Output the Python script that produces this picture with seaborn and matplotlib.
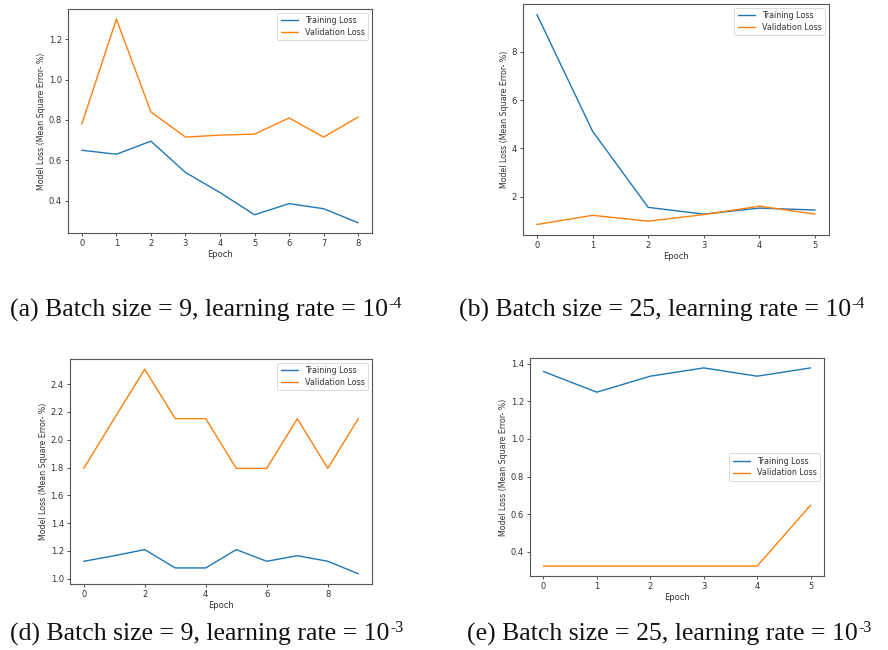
import numpy as np
import pandas as pd
import matplotlib
matplotlib.use("Agg")
import matplotlib.pyplot as plt
import seaborn as sns

sns.set_style("ticks")
plt.rcParams['font.family'] = ['DejaVu Sans']

# (a) batch 9, lr 1e-4
epochs_a = [0, 1, 2, 3, 4, 5, 6, 7, 8]
train_a = [0.65, 0.63, 0.695, 0.54, 0.44, 0.33, 0.385, 0.36, 0.29]
val_a = [0.78, 1.30, 0.84, 0.715, 0.725, 0.73, 0.81, 0.715, 0.815]

# (b) batch 25, lr 1e-4
epochs_b = [0, 1, 2, 3, 4, 5]
train_b = [9.55, 4.71, 1.55, 1.27, 1.52, 1.44]
val_b = [0.84, 1.22, 0.98, 1.25, 1.6, 1.27]

# (d) batch 9, lr 1e-3
epochs_d = [0, 1, 2, 3, 4, 5, 6, 7, 8, 9]
train_d = [1.125, 1.165, 1.209, 1.077, 1.077, 1.209, 1.125, 1.165, 1.125, 1.035]
val_d = [1.794, 2.152, 2.508, 2.152, 2.152, 1.794, 1.794, 2.152, 1.794, 2.152]

# (e) batch 25, lr 1e-3
epochs_e = [0, 1, 2, 3, 4, 5]
train_e = [1.358, 1.248, 1.333, 1.377, 1.333, 1.377]
val_e = [0.324, 0.324, 0.324, 0.324, 0.324, 0.648]

captions = [
    ("(a)", "9", "-4"),
    ("(b)", "25", "-4"),
    ("(d)", "9", "-3"),
    ("(e)", "25", "-3"),
]

blue = '#1f77b4'
orange = '#ff7f0e'
fs = 6

fig = plt.figure(figsize=(8.88, 6.5), dpi=100)

panels = [
    (epochs_a, train_a, val_a, [68, 9, 372, 233], 'upper right', epochs_a),
    (epochs_b, train_b, val_b, [523, 4, 829, 235], 'upper right', epochs_b),
    (epochs_d, train_d, val_d, [70, 359, 372, 584], 'upper right', epochs_d[::2]),
    (epochs_e, train_e, val_e, [530, 358, 824, 576], 'center right', epochs_e),
]

W, H = 888, 650
for ep, tr, va, box, loc, xt in panels:
    l, t, r, b = box
    ax = fig.add_axes([l / W, 1 - b / H, (r - l) / W, (b - t) / H])
    df = pd.DataFrame({'Epoch': ep + ep,
                       'loss': tr + va,
                       'series': ['Training Loss'] * len(ep) + ['Validation Loss'] * len(ep)})
    sns.lineplot(data=df, x='Epoch', y='loss', hue='series',
                 palette=[blue, orange], linewidth=1.0, ax=ax)
    ax.set_xticks(xt)
    ax.set_xlabel('Epoch', fontsize=fs, color='#333333', labelpad=1.5)
    ax.set_ylabel('Model Loss (Mean Square Error- %)', fontsize=fs - 0.3,
                  color='#333333', labelpad=2)
    ax.tick_params(labelsize=fs, length=2.5, width=0.6, pad=2,
                   colors='#333333')
    for sp in ax.spines.values():
        sp.set_color('#555555')
        sp.set_linewidth(0.8)
    handles, labels = ax.get_legend_handles_labels()
    leg = ax.legend(handles, labels, loc=loc, fontsize=fs - 0.2, frameon=True,
                    handlelength=2.2, borderpad=0.4, labelspacing=0.35)
    leg.get_frame().set_edgecolor('#cccccc')
    leg.get_frame().set_linewidth(0.6)
    for txt in leg.get_texts():
        txt.set_color('#333333')

# captions: main text plus a small superscript exponent placed after it
cap_pos = [(10, 317), (459, 317), (10, 641), (467, 641)]
renderer = fig.canvas.get_renderer()
for (tag, bs, ex), (x, y) in zip(captions, cap_pos):
    main = fig.text(x / W, 1 - y / H,
                    f"{tag} Batch size = {bs}, learning rate = 10",
                    fontsize=18.5, family='Liberation Serif', va='baseline',
                    ha='left', color='#111111')
    ext = main.get_window_extent(renderer=renderer)
    fig.text((ext.x1 + 0.5) / W, 1 - (y - 9) / H, ex,
             fontsize=11.5, family='Liberation Serif', va='baseline',
             ha='left', color='#111111')

fig.savefig('out.png', dpi=100)
